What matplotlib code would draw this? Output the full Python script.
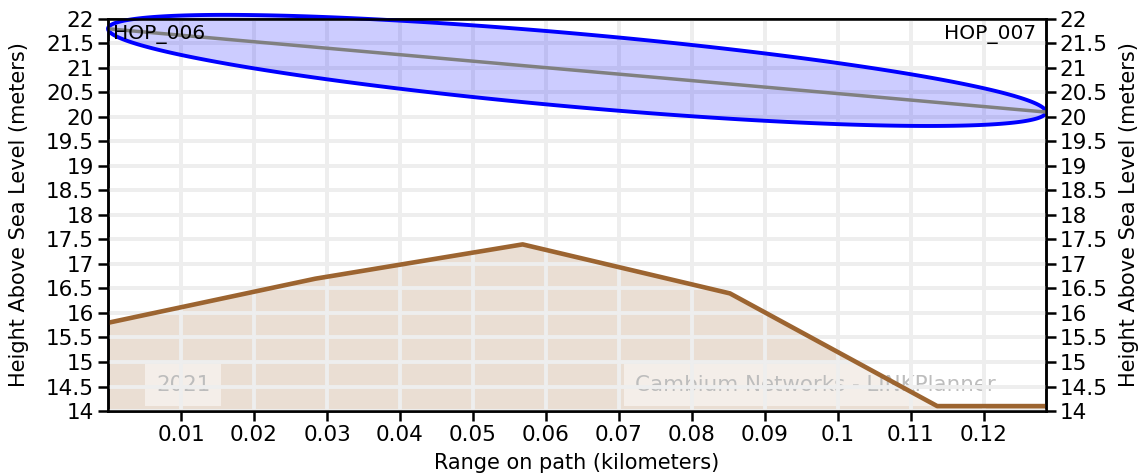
import numpy as np
import matplotlib
matplotlib.use("Agg")
import matplotlib.pyplot as plt

# terrain profile along the path
terrain_km = [0.0, 0.0284, 0.0568, 0.0852, 0.1136, 0.1285]
terrain_m = [15.8, 16.7, 17.4, 16.4, 14.1, 14.1]

# antenna heights at each end and fresnel radius
path_len = 0.1285
ant_left = 21.8
ant_right = 20.1
fresnel_r = 0.75

site_left = "HOP_006"
site_right = "HOP_007"

yticks = np.arange(14, 22.01, 0.5)
xticks = np.arange(0.01, 0.1201, 0.01)

fig = plt.figure(figsize=(11.42, 4.74), dpi=100)
ax = fig.add_axes([0.0946, 0.1329, 0.8213, 0.8271])

brown = '#9c6430'
ax.fill_between(terrain_km, terrain_m, 14, color=brown, alpha=0.21, lw=0, zorder=1)
ax.plot(terrain_km, terrain_m, color=brown, lw=3.3, zorder=4)

# line of sight + fresnel zone
ax.plot([0, path_len], [ant_left, ant_right], color='gray', lw=2.5, zorder=3.5)
t = np.linspace(0, 2 * np.pi, 400)
fx = path_len * (1 - np.cos(t)) / 2
fy = ant_left + (ant_right - ant_left) * fx / path_len + fresnel_r * np.sin(t)
ax.fill(fx, fy, facecolor=(0, 0, 1, 0.2), edgecolor='blue', lw=2.8, zorder=3, clip_on=False)

ax.set_xlim(0, path_len)
ax.set_ylim(14, 22)
ax.set_xticks(xticks)
ax.set_xticklabels(['%g' % round(v, 2) for v in xticks])
ax.set_yticks(yticks)
ax.set_yticklabels(['%g' % v for v in yticks])
ax.grid(True, color='#eeeeee', lw=2.8, zorder=2)
ax.set_axisbelow(False)
for gl in ax.get_xgridlines() + ax.get_ygridlines():
    gl.set_zorder(2)

ax.tick_params(labelsize=15.5, width=1.8, length=7, pad=3)
for s in ax.spines.values():
    s.set_linewidth(1.8)
ax.set_xlabel('Range on path (kilometers)', fontsize=15, labelpad=6)
ax.set_ylabel('Height Above Sea Level (meters)', fontsize=15, labelpad=12)

ax2 = ax.twinx()
ax2.set_ylim(14, 22)
ax2.set_yticks(yticks)
ax2.set_yticklabels(['%g' % v for v in yticks])
ax2.tick_params(labelsize=15.5, width=1.8, length=7, pad=3)
ax2.set_ylabel('Height Above Sea Level (meters)', fontsize=15, labelpad=8)
for s in ax2.spines.values():
    s.set_linewidth(1.8)

ax.text(0.005, 0.985, site_left, transform=ax.transAxes, fontsize=14.5,
        ha='left', va='top', zorder=5)
ax.text(0.99, 0.985, site_right, transform=ax.transAxes, fontsize=14.5,
        ha='right', va='top', zorder=5)

wm = dict(color='#bdbdbd', fontsize=15.4, va='center', ha='center', zorder=2.5,
          bbox=dict(boxstyle='square,pad=0.5', fc='white', ec='none', alpha=0.5))
ax.text(0.08, 0.066, '2021', transform=ax.transAxes, **wm)
ax.text(0.754, 0.066, 'Cambium Networks - LINKPlanner', transform=ax.transAxes, **wm)

plt.savefig('out.png', dpi=100)
